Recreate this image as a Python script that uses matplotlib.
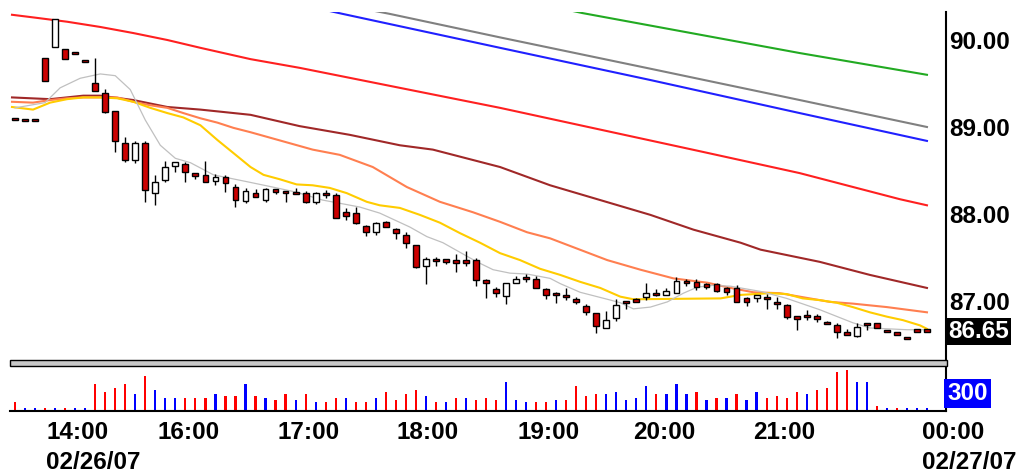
import numpy as np
import matplotlib
matplotlib.use("Agg")
import matplotlib.pyplot as plt
from matplotlib.patches import Rectangle
from matplotlib.transforms import blended_transform_factory

# 5-minute bars
opens = [89.10, 89.09, 89.09, 89.79, 89.92, 89.90, 89.86, 89.77, 89.51, 89.39,
         89.18, 88.82, 88.62, 88.82, 88.24, 88.39, 88.55, 88.57, 88.47, 88.45,
         88.38, 88.43, 88.31, 88.15, 88.24, 88.16, 88.29, 88.26, 88.25, 88.24,
         88.14, 88.24, 88.22, 88.02, 88.01, 87.86, 87.79, 87.91, 87.83, 87.76,
         87.64, 87.40, 87.48, 87.48, 87.46, 87.46, 87.47, 87.24, 87.14, 87.06,
         87.21, 87.28, 87.25, 87.14, 87.09, 87.07, 87.02, 86.94, 86.86, 86.69,
         86.80, 87.00, 87.02, 87.05, 87.09, 87.07, 87.09, 87.22, 87.22, 87.20,
         87.20, 87.15, 87.15, 87.03, 87.03, 87.05, 86.98, 86.95, 86.82, 86.84,
         86.83, 86.76, 86.72, 86.64, 86.60, 86.75, 86.75, 86.67, 86.64, 86.59,
         86.68, 86.67]
highs = [89.10, 89.09, 89.09, 89.79, 90.24, 89.90, 89.86, 89.77, 89.79, 89.44,
         89.18, 88.89, 88.84, 88.84, 88.45, 88.61, 88.60, 88.60, 88.47, 88.61,
         88.46, 88.45, 88.34, 88.30, 88.29, 88.30, 88.29, 88.26, 88.30, 88.26,
         88.25, 88.28, 88.24, 88.07, 88.08, 87.87, 87.91, 87.92, 87.84, 87.79,
         87.64, 87.51, 87.51, 87.48, 87.54, 87.57, 87.49, 87.25, 87.16, 87.21,
         87.29, 87.31, 87.29, 87.15, 87.10, 87.15, 87.05, 86.97, 86.86, 86.89,
         87.02, 87.00, 87.04, 87.21, 87.14, 87.15, 87.28, 87.25, 87.25, 87.21,
         87.21, 87.16, 87.18, 87.05, 87.07, 87.08, 87.05, 86.97, 86.82, 86.90,
         86.85, 86.77, 86.75, 86.68, 86.75, 86.75, 86.75, 86.67, 86.64, 86.59,
         86.68, 86.67]
lows = [89.08, 89.07, 89.07, 89.53, 89.92, 89.78, 89.84, 89.75, 89.41, 89.16,
        88.71, 88.60, 88.59, 88.14, 88.10, 88.37, 88.48, 88.37, 88.40, 88.37,
        88.33, 88.25, 88.08, 88.13, 88.20, 88.14, 88.23, 88.14, 88.24, 88.13,
        88.11, 88.18, 87.95, 87.93, 87.89, 87.75, 87.76, 87.85, 87.71, 87.61,
        87.38, 87.20, 87.40, 87.43, 87.33, 87.40, 87.17, 87.03, 87.05, 86.97,
        87.21, 87.22, 87.15, 87.02, 86.98, 87.01, 86.97, 86.84, 86.63, 86.69,
        86.77, 86.91, 86.99, 87.01, 87.06, 87.07, 87.09, 87.17, 87.13, 87.14,
        87.10, 87.07, 86.99, 86.94, 86.99, 86.91, 86.91, 86.79, 86.67, 86.78,
        86.76, 86.74, 86.57, 86.61, 86.59, 86.67, 86.69, 86.64, 86.61, 86.56,
        86.64, 86.64]
closes = [89.08, 89.07, 89.07, 89.53, 90.24, 89.78, 89.84, 89.75, 89.41, 89.17,
          88.84, 88.62, 88.82, 88.28, 88.37, 88.54, 88.60, 88.48, 88.44, 88.37,
          88.43, 88.36, 88.16, 88.26, 88.20, 88.29, 88.25, 88.24, 88.24, 88.14,
          88.24, 88.22, 87.95, 87.98, 87.90, 87.79, 87.90, 87.85, 87.78, 87.67,
          87.39, 87.48, 87.46, 87.45, 87.45, 87.45, 87.24, 87.21, 87.09, 87.21,
          87.25, 87.25, 87.15, 87.07, 87.07, 87.05, 86.99, 86.87, 86.71, 86.78,
          86.95, 86.98, 86.99, 87.09, 87.08, 87.11, 87.23, 87.21, 87.16, 87.16,
          87.11, 87.10, 86.99, 86.99, 87.07, 87.02, 86.97, 86.82, 86.80, 86.82,
          86.79, 86.74, 86.64, 86.61, 86.70, 86.72, 86.69, 86.64, 86.61, 86.56,
          86.64, 86.65]

volumes = [160, 50, 50, 50, 50, 50, 50, 50, 475, 335,
           405, 475, 300, 615, 370, 230, 230, 230, 230, 230,
           300, 265, 265, 475, 265, 230, 195, 300, 195, 300,
           160, 160, 230, 230, 160, 160, 230, 335, 195, 300,
           370, 265, 160, 160, 230, 230, 195, 230, 195, 510,
           195, 160, 160, 160, 195, 195, 440, 265, 300, 300,
           335, 195, 230, 440, 300, 300, 475, 300, 335, 195,
           230, 230, 300, 195, 335, 230, 265, 230, 335, 300,
           370, 405, 685, 720, 510, 510, 90, 50, 50, 50,
           50, 50]
# 1 = up-tick volume (blue), 0 = down-tick volume (red)
vol_up = [0, 1, 1, 0, 1, 0, 1, 1, 0, 0,
          0, 0, 1, 0, 1, 1, 1, 0, 0, 0,
          1, 0, 0, 1, 0, 1, 0, 0, 1, 0,
          1, 0, 0, 1, 0, 0, 1, 0, 0, 0,
          0, 1, 0, 1, 0, 1, 0, 0, 0, 1,
          1, 1, 0, 0, 1, 0, 0, 0, 0, 1,
          1, 1, 1, 1, 0, 1, 1, 1, 0, 1,
          0, 1, 0, 1, 1, 0, 0, 0, 0, 1,
          0, 0, 0, 0, 1, 1, 0, 1, 0, 1,
          1, 1]

# moving averages, sampled at bar positions
fast_x = [0, 3, 4.5, 6.5, 8.5, 10, 11.5, 13, 14.5, 16, 17.5, 19.8, 23.2, 25.7,
          28.1, 30.7, 32.1, 34.4, 36.4, 39.4, 41.1, 42.7, 44.4, 46.1, 47.7,
          49.4, 51.1, 53.4, 54.4, 56.4, 59.1, 60.4, 61.7, 63.4, 65.1, 66.7,
          68.1, 69.7, 71.4, 74.4, 77.0, 80.3, 83.6, 85.3, 89.0, 91.0]
fast_ma = [89.22, 89.28, 89.45, 89.56, 89.61, 89.59, 89.43, 89.08, 88.79, 88.64,
           88.59, 88.45, 88.37, 88.31, 88.25, 88.16, 88.13, 88.08, 88.01, 87.85,
           87.74, 87.67, 87.56, 87.45, 87.36, 87.32, 87.31, 87.26, 87.20, 87.10,
           87.02, 86.98, 86.91, 86.93, 86.99, 87.09, 87.16, 87.18, 87.17, 87.11,
           87.03, 86.90, 86.75, 86.69, 86.67, 86.67]

yellow_x = [-0.3, 1.8, 3.5, 5.2, 6.8, 8.5, 10.2, 11.8, 13.5, 15.2, 16.8, 18.5,
            20.2, 21.8, 23.5, 24.8, 26.4, 28.1, 29.7, 31.4, 33.1, 35.1, 36.4,
            38.4, 40.4, 42.4, 44.4, 46.4, 48.4, 50.4, 52.4, 54.4, 56.4, 58.4,
            60.4, 61.7, 70.4, 72.4, 75.3, 77.0, 78.6, 80.3, 82.0, 83.6, 85.3,
            87.0, 88.6, 90.3, 91.0]
yellow_ma = [89.23, 89.20, 89.28, 89.32, 89.34, 89.34, 89.33, 89.29, 89.22, 89.16,
             89.11, 89.02, 88.85, 88.70, 88.54, 88.45, 88.40, 88.34, 88.33, 88.30,
             88.24, 88.14, 88.10, 88.07, 87.99, 87.90, 87.78, 87.67, 87.55, 87.47,
             87.37, 87.30, 87.22, 87.15, 87.05, 87.02, 87.03, 87.07, 87.09, 87.08,
             87.03, 87.01, 86.98, 86.93, 86.87, 86.82, 86.78, 86.72, 86.68]

orange_x = [-0.3, 1.8, 3.5, 5.2, 6.8, 10.2, 11.8, 13.5, 15.2, 16.8, 18.5, 20.2,
            21.8, 23.5, 29.7, 32.4, 35.7, 39.1, 42.4, 45.7, 48.4, 51.1, 53.4,
            59.1, 62.4, 65.7, 69.1, 71.4, 73.7, 76.3, 81.3, 83.6, 87.0, 91.0]
orange_ma = [89.29, 89.28, 89.31, 89.33, 89.34, 89.34, 89.29, 89.25, 89.22, 89.16,
             89.10, 89.05, 88.99, 88.94, 88.74, 88.68, 88.54, 88.31, 88.14, 88.02,
             87.91, 87.79, 87.72, 87.47, 87.36, 87.26, 87.21, 87.15, 87.10, 87.09,
             86.99, 86.97, 86.93, 86.87]

maroon_x = [-0.3, 3.5, 6.8, 8.5, 11.8, 15.2, 18.5, 23.5, 28.4, 33.4, 38.4, 41.7,
            48.4, 53.4, 58.4, 63.4, 67.7, 72.4, 74.4, 80.3, 85.3, 91.0]
maroon_ma = [89.34, 89.32, 89.36, 89.36, 89.31, 89.23, 89.20, 89.14, 89.01, 88.91,
             88.79, 88.74, 88.54, 88.33, 88.16, 87.99, 87.82, 87.67, 87.59, 87.45,
             87.30, 87.15]

red_x = [-0.3, 1.8, 5.2, 8.5, 11.8, 15.2, 18.5, 23.5, 28.4, 38.4, 48.4, 58.4,
         68.4, 78.3, 88.3, 91.0]
red_ma = [90.29, 90.26, 90.21, 90.15, 90.08, 90.00, 89.91, 89.78, 89.68, 89.45,
          89.22, 88.97, 88.72, 88.47, 88.17, 88.10]

blue_x = [28.4, 32.7, 48.4, 63.4, 78.3, 91.0]
blue_ma = [90.41, 90.30, 89.91, 89.54, 89.16, 88.84]

gray_x = [33.4, 37.4, 48.4, 63.4, 78.3, 91.0]
gray_ma = [90.39, 90.30, 90.03, 89.67, 89.31, 89.00]

green_x = [53.4, 56.6, 68.4, 78.3, 91.0]
green_ma = [90.39, 90.31, 90.06, 89.85, 89.60]

price_ticks = [90.0, 89.0, 88.0, 87.0]
time_labels = ["14:00", "16:00", "17:00", "18:00", "19:00", "20:00", "21:00", "00:00"]
time_pos = [3.1, 14.2, 26.15, 38.1, 50.1, 61.7, 73.65, 90.5]
date_labels = [("02/26/07", 3.1), ("02/27/07", 90.5)]

W, H = 1027, 474
FONT = dict(family="Liberation Sans", fontweight="bold", fontsize=17.5)


def fy(py):
    return 1 - py / H


def draw_candles(ax):
    x = np.arange(len(opens))
    o = np.array(opens)
    c = np.array(closes)
    ax.vlines(x, lows, highs, color="black", lw=1.0, zorder=4)
    bottom = np.minimum(o, c)
    height = np.abs(c - o)
    small = height < 0.025
    bottom = np.where(small, (o + c) / 2 - 0.0125, bottom)
    height = np.where(small, 0.025, height)
    fill = np.where(c < o, "#cc0000", "white")
    ax.bar(x, height, bottom=bottom, width=0.58, color=fill,
           edgecolor="black", linewidth=1.0, zorder=5)


def main():
    fig = plt.figure(figsize=(W / 100, H / 100), dpi=100)
    fig.patch.set_facecolor("white")

    left, right = 10, 946
    ax = fig.add_axes([left / W, fy(360), (right - left) / W, (360 - 12) / H])
    axv = fig.add_axes([left / W, fy(411), (right - left) / W, (411 - 366) / H])

    xlim = (-0.5, 92.9)

    # price panel
    ax.plot(red_x, red_ma, color="#ff2020", lw=1.5, zorder=2)
    ax.plot(blue_x, blue_ma, color="#2020ff", lw=1.5, zorder=2)
    ax.plot(gray_x, gray_ma, color="#808080", lw=1.5, zorder=2)
    ax.plot(green_x, green_ma, color="#22aa22", lw=1.5, zorder=2)
    ax.plot(maroon_x, maroon_ma, color="#a02828", lw=1.5, zorder=2)
    ax.plot(orange_x, orange_ma, color="#ff7f50", lw=1.5, zorder=2)
    ax.plot(yellow_x, yellow_ma, color="#ffcc00", lw=1.5, zorder=3)
    ax.plot(fast_x, fast_ma, color="#c0c0c0", lw=0.9, zorder=3)
    draw_candles(ax)

    ax.set_xlim(*xlim)
    ax.set_ylim(90 - 320 / 87, 90 + 28 / 87)
    ax.set_xticks([])
    ax.yaxis.tick_right()
    ax.set_yticks(price_ticks)
    ax.set_yticklabels([f"{p:.2f}" for p in price_ticks], **FONT)
    ax.tick_params(axis="y", length=0, pad=2)
    for s in ("top", "left", "bottom"):
        ax.spines[s].set_visible(False)
    ax.spines["right"].set_linewidth(1.5)

    ax.annotate(f"{closes[-1]:.2f}", xy=(1, closes[-1]),
                xycoords=("axes fraction", "data"), xytext=(1.5, 0),
                textcoords="offset points", ha="left", va="center",
                color="white", bbox=dict(boxstyle="square,pad=0.08",
                                         fc="black", ec="none"), **FONT)

    # separator between panels
    fig.patches.append(Rectangle((left / W, fy(366)), (right + 1 - left) / W, 6 / H,
                                 transform=fig.transFigure, fc="#c8c8c8",
                                 ec="black", lw=1.0))

    # volume panel
    xv = np.arange(len(volumes))
    vcol = ["#0000ff" if u else "#ff0000" for u in vol_up]
    axv.bar(xv, volumes, width=0.22, color=vcol)
    axv.set_xlim(*xlim)
    axv.set_ylim(0, 790)
    axv.set_xticks([])
    axv.set_yticks([])
    for s in ("top", "left"):
        axv.spines[s].set_visible(False)
    axv.spines["bottom"].set_linewidth(1.5)
    axv.spines["right"].set_linewidth(1.5)
    axv.annotate("300", xy=(1, 300), xycoords=("axes fraction", "data"),
                 xytext=(1, 0), textcoords="offset points", ha="left",
                 va="center", color="white",
                 bbox=dict(boxstyle="square,pad=0.12", fc="#0000ff", ec="none"),
                 **FONT)

    # time axis labels
    tr = blended_transform_factory(axv.transData, fig.transFigure)
    for lab, pos in zip(time_labels, time_pos):
        fig.text(pos, fy(439), lab, transform=tr, ha="left", va="baseline", **FONT)
    for lab, pos in date_labels:
        fig.text(pos, fy(469), lab, transform=tr, ha="left", va="baseline", **FONT)

    fig.savefig("out.png", dpi=100, facecolor="white")


if __name__ == "__main__":
    main()
